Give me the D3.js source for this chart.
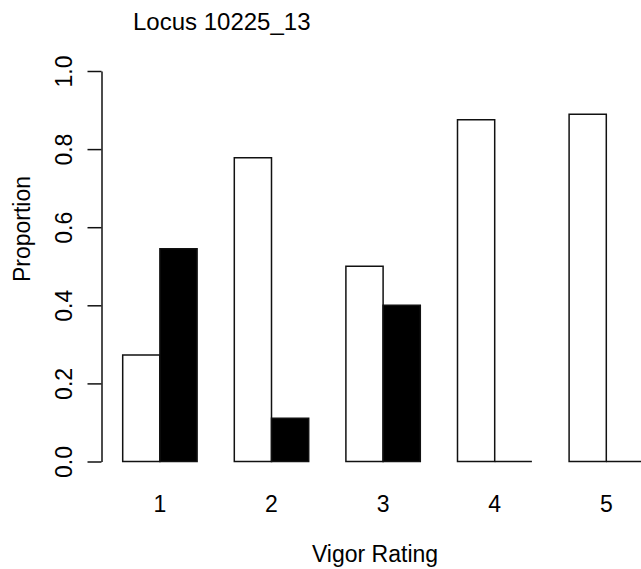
<!DOCTYPE html>
<html>
<head>
<meta charset="utf-8">
<script src="https://cdn.jsdelivr.net/npm/d3@7"></script>
<style>
  html, body { margin: 0; padding: 0; background: #fff; }
  svg { display: block; font-family: "Liberation Sans", Arial, sans-serif; }
</style>
</head>
<body>
<svg id="chart" width="641" height="569"></svg>
<script>
const categories = ["1", "2", "3", "4", "5"];
const seriesNames = ["white", "black"];
const whiteValues = [0.273, 0.778, 0.5, 0.875, 0.889];
const blackValues = [0.545, 0.111, 0.4, 0, 0];
const yTicks = [0, 0.2, 0.4, 0.6, 0.8, 1.0];
const titleText = "Locus 10225_13";
const xLabel = "Vigor Rating";
const yLabel = "Proportion";

const svg = d3.select("#chart");
const fontSize = 23;

// x in bar units: each group = 2 bars + 1 bar space, 5 groups = 15 units
const x = d3.scaleLinear().domain([0, 15]).range([85.5, 643.5]);
const unit = x(1) - x(0);
const xs = d3.scaleBand().domain(seriesNames).range([0, 2 * unit]).padding(0);
const y = d3.scaleLinear().domain([0, 1]).range([461.5, 71]);
const fills = { white: "#ffffff", black: "#000000" };

const data = [];
categories.forEach((c, i) => {
  data.push({ cat: c, i, s: "white", v: whiteValues[i] });
  data.push({ cat: c, i, s: "black", v: blackValues[i] });
});

svg.append("g").selectAll("path")
  .data(data)
  .join("path")
  .attr("d", d => {
    const x0 = x(3 * d.i + 1) + xs(d.s);
    const w = xs.bandwidth();
    const y0 = y(0), y1 = y(d.v);
    return `M${x0},${y0}V${y1}H${x0 + w}V${y0}Z`;
  })
  .attr("fill", d => fills[d.s])
  .attr("stroke", "#111")
  .attr("stroke-width", 1.5);

// y axis
const axisX = 101.5;
const yAxis = svg.append("g")
  .attr("transform", `translate(${axisX},0)`)
  .call(d3.axisLeft(y).tickValues(yTicks).tickFormat(d3.format(".1f")).tickSize(14).tickSizeOuter(0));
yAxis.select(".domain").attr("stroke", "#111").attr("stroke-width", 1.5);
yAxis.selectAll(".tick line").attr("stroke", "#111").attr("stroke-width", 1.5);
yAxis.selectAll(".tick text")
  .attr("x", null).attr("dy", null)
  .attr("text-anchor", "middle")
  .attr("transform", "translate(-30,0) rotate(-90)")
  .attr("fill", "#000")
  .style("font-size", fontSize + "px")
  .style("font-family", "Liberation Sans, Arial, sans-serif");

// category labels
svg.append("g").selectAll("text")
  .data(categories)
  .join("text")
  .attr("x", (d, i) => x(3 * i + 2))
  .attr("y", 512)
  .attr("text-anchor", "middle")
  .style("font-size", fontSize + "px")
  .text(d => d);

// axis titles
svg.append("text")
  .attr("x", 375).attr("y", 562)
  .attr("text-anchor", "middle")
  .style("font-size", fontSize + "px")
  .text(xLabel);

svg.append("text")
  .attr("transform", "translate(30,229) rotate(-90)")
  .attr("text-anchor", "middle")
  .style("font-size", fontSize + "px")
  .text(yLabel);

svg.append("text")
  .attr("x", 133).attr("y", 30)
  .style("font-size", "24px")
  .text(titleText);
</script>
</body>
</html>
